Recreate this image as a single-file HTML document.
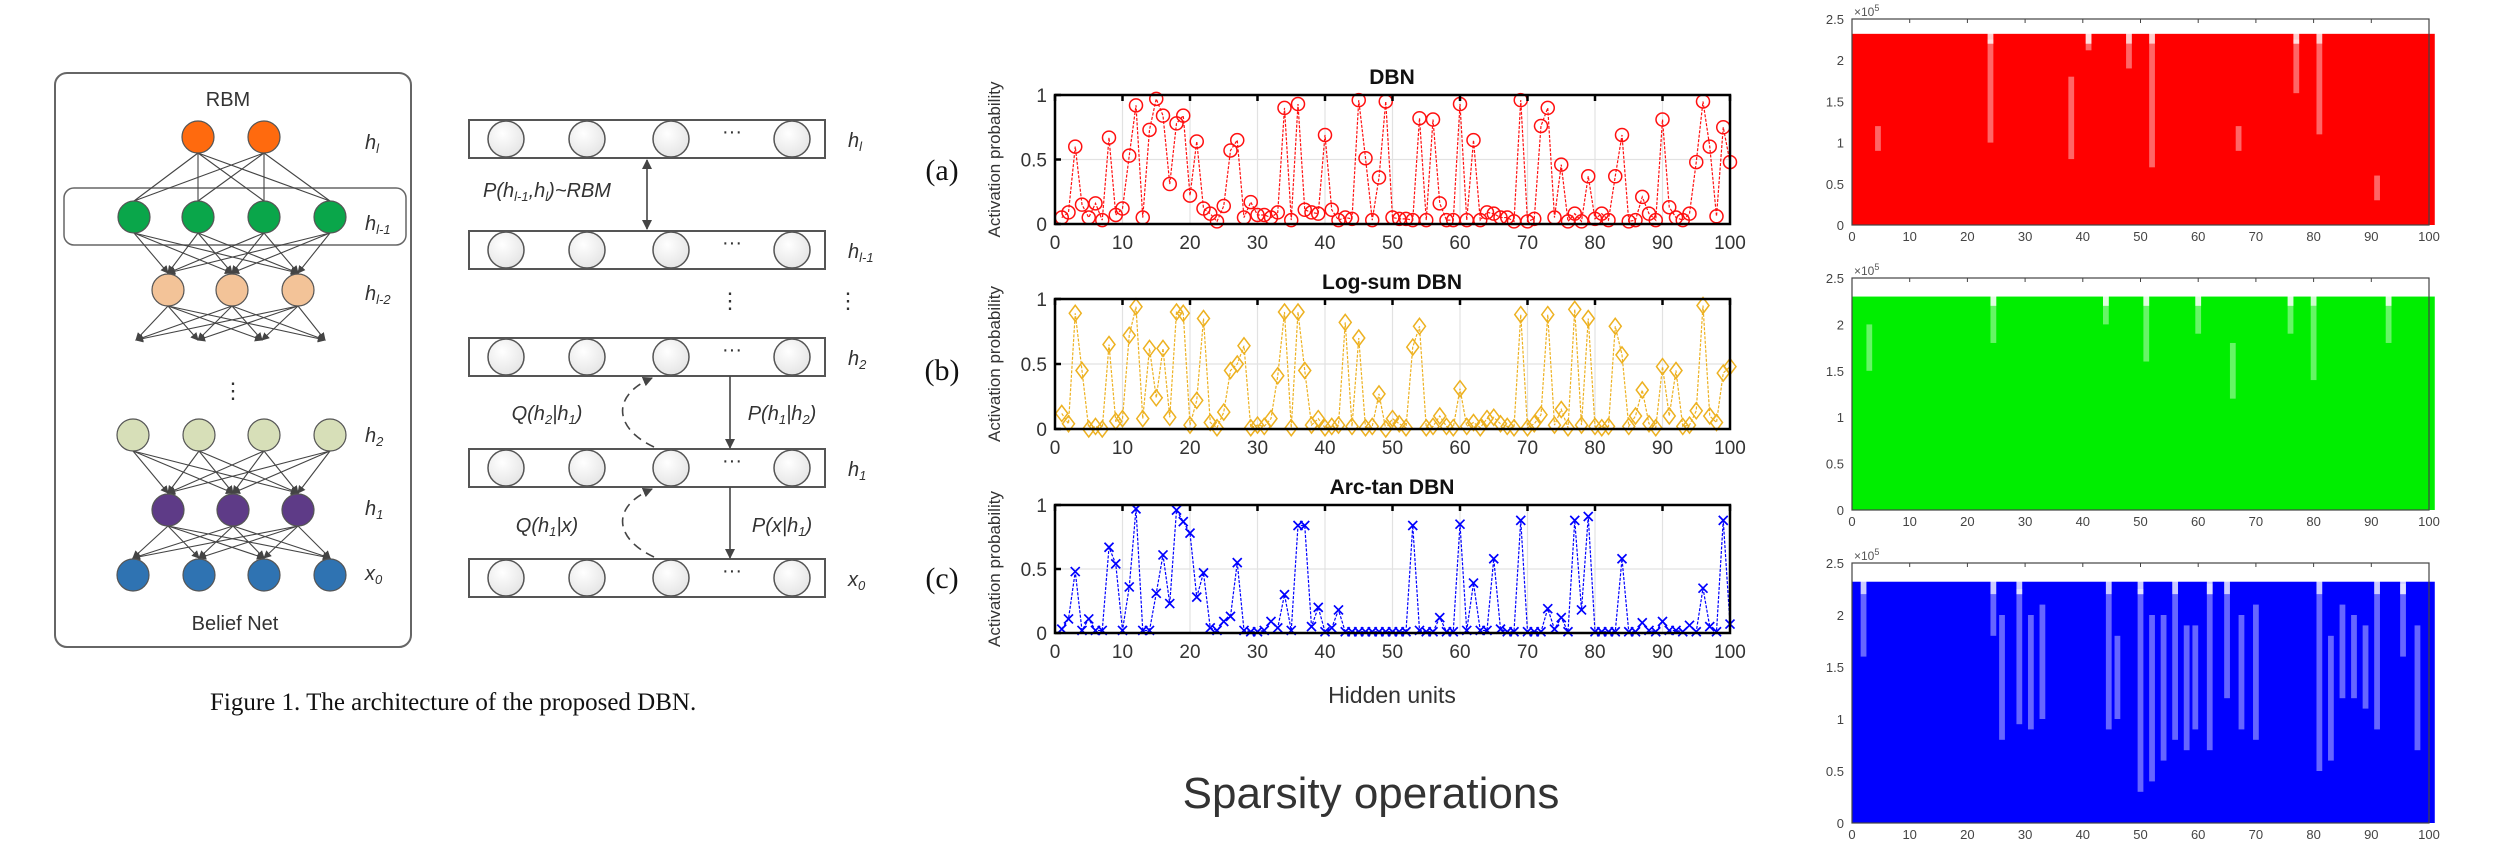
<!DOCTYPE html>
<html><head><meta charset="utf-8"><title>DBN sparsity figure</title>
<style>
html,body{margin:0;padding:0;background:#fff;}
svg{display:block;}
text{font-family:"Liberation Sans",sans-serif;}
.it{font-family:"Liberation Sans",sans-serif;font-style:italic;fill:#333;}
</style></head>
<body>
<svg id="fig" width="2500" height="857" viewBox="0 0 2500 857" xmlns="http://www.w3.org/2000/svg">
<defs>
<marker id="ah" markerWidth="8" markerHeight="8" refX="7" refY="4" orient="auto" markerUnits="userSpaceOnUse"><path d="M0,0 L8,4 L0,8 z" fill="#444"/></marker>
<marker id="ah2" markerWidth="10" markerHeight="10" refX="9" refY="5" orient="auto-start-reverse" markerUnits="userSpaceOnUse"><path d="M0,0 L10,5 L0,10 z" fill="#444"/></marker>
<radialGradient id="cg" cx="0.4" cy="0.35" r="0.7"><stop offset="0" stop-color="#ffffff"/><stop offset="1" stop-color="#e4e4e4"/></radialGradient>
</defs>

<g id="left-diagram">
 <rect x="55" y="73" width="356" height="574" rx="12" fill="none" stroke="#666" stroke-width="2"/>
 <text x="228" y="106" font-size="20" text-anchor="middle" fill="#333">RBM</text>
 <rect x="64" y="188" width="342" height="57" rx="10" fill="none" stroke="#666" stroke-width="1.5"/>
 <g id="edges" stroke="#444" stroke-width="1.1" fill="none"></g>
 <g id="nodes"></g>
 <text x="233" y="398" font-size="22" text-anchor="middle" fill="#333">⋮</text>
 <text x="235" y="630" font-size="20" text-anchor="middle" fill="#333">Belief Net</text>
 <text class="it" x="365" y="149" font-size="20">h<tspan font-size="13" dy="4">l</tspan></text>
 <text class="it" x="365" y="230" font-size="20">h<tspan font-size="13" dy="4">l-1</tspan></text>
 <text class="it" x="365" y="300" font-size="20">h<tspan font-size="13" dy="4">l-2</tspan></text>
 <text class="it" x="365" y="442" font-size="20">h<tspan font-size="13" dy="4">2</tspan></text>
 <text class="it" x="365" y="515" font-size="20">h<tspan font-size="13" dy="4">1</tspan></text>
 <text class="it" x="365" y="580" font-size="20">x<tspan font-size="13" dy="4">0</tspan></text>
</g>
<text x="210" y="710" font-size="25" style="font-family:'Liberation Serif',serif" fill="#111">Figure 1. The architecture of the proposed DBN.</text>

<g id="mid-diagram"></g>

<g id="line-charts"></g>
<text x="1392" y="703" font-size="23" text-anchor="middle" fill="#333">Hidden units</text>
<text x="1371" y="808" font-size="44" text-anchor="middle" fill="#333">Sparsity operations</text>

<g id="scatter-panels"></g>
</svg>

<script>
const hiddenUnits = Array.from({length:100},(_,i)=>i+1);
const dbnValues = [.05,.09,.6,.15,.05,.16,.03,.67,.07,.12,
 .53,.92,.05,.73,.97,.84,.31,.78,.84,.22,
 .64,.12,.08,.02,.14,.57,.65,.05,.17,.07,
 .07,.05,.09,.9,.03,.93,.11,.09,.08,.69,
 .11,.03,.05,.04,.96,.51,.03,.36,.95,.05,
 .04,.04,.03,.82,.03,.81,.16,.03,.03,.93,
 .03,.65,.03,.09,.08,.05,.05,.02,.96,.02,
 .04,.76,.9,.05,.46,.02,.08,.02,.37,.04,
 .08,.03,.37,.69,.02,.03,.21,.08,.03,.81,
 .13,.05,.03,.08,.48,.95,.6,.06,.75,.48];
const logSumValues = [.12,.04,.89,.45,0,.02,0,.65,.06,.08,
 .72,.94,.08,.62,.24,.62,.09,.9,.89,.03,
 .22,.85,.05,.01,.13,.45,.5,.64,.01,.03,
 .02,.08,.41,.9,.01,.9,.45,.03,.08,.01,
 .02,.03,.82,.02,.7,.01,.02,.27,0,.08,
 .04,.01,.63,.79,.01,.02,.1,.02,.01,.31,
 .02,.05,.01,.08,.09,.04,.02,.01,.88,.01,
 .04,.11,.88,.03,.15,.01,.92,.03,.85,.02,
 .01,.02,.79,.57,.02,.1,.3,.04,.01,.48,
 .1,.45,.02,.03,.14,.95,.1,.05,.43,.48];
const arcTanValues = [.03,.11,.48,.02,.11,.02,.02,.67,.54,.02,
 .36,.97,.02,.02,.31,.61,.23,.96,.87,.78,
 .28,.47,.04,.02,.09,.13,.55,.02,.01,.01,
 .02,.09,.04,.3,.02,.84,.84,.05,.2,.01,
 .04,.18,.01,.01,.01,.01,.01,.01,.01,.01,
 .01,.01,.84,.02,.01,.01,.12,.01,.01,.85,
 .02,.39,.02,.02,.58,.03,.01,.01,.88,.01,
 .01,.01,.19,.03,.12,.01,.88,.18,.91,.01,
 .01,.01,.01,.58,.01,.01,.08,.02,.01,.09,
 .02,.02,.01,.06,.01,.35,.05,.01,.88,.07];
const xTickLabels = ["0","10","20","30","40","50","60","70","80","90","100"];
const yTickLabels = ["0","0.5","1"];
const scatterYTicks = ["0","0.5","1","1.5","2","2.5"];
const scatterTop = [2.32, 2.3, 2.32];
const redGaps = [[4.5,0.9,1.2],[24,1.0,2.25],[41,2.12,2.33],[52,0.7,2.2],[67,0.9,1.2],[77,1.6,2.25],[81,1.1,2.2],[91,0.3,0.6],[38,0.8,1.8],[48,1.9,2.2]];
const greenGaps = [[24.5,1.8,2.33],[44,2.0,2.33],[51,1.6,2.33],[60,1.9,2.33],[76,1.9,2.33],[80,1.4,2.2],[93,1.8,2.33],[3,1.5,2.0],[66,1.2,1.8]];
const blueGaps = [[2,1.6,2.2],[24.5,1.8,2.2],[26,0.8,2.0],[29,0.95,2.25],[31,0.9,2.0],[33,1.0,2.1],[44.5,0.9,2.2],[46,1.0,1.8],[50,0.3,2.25],[52,0.4,2.0],[54,0.6,2.0],[56,0.8,2.2],[58,0.7,1.9],[59.5,0.9,1.9],[62,0.7,2.3],[65,1.2,2.2],[67.5,0.9,2.0],[70,0.8,2.1],[81,0.5,2.2],[83,0.6,1.8],[85,1.2,2.1],[87,1.2,2.0],[89,1.1,1.9],[91,0.9,2.2],[95.5,1.6,2.3],[98,0.7,1.9]];

const NS="http://www.w3.org/2000/svg";
function mk(tag, attrs, parent){const e=document.createElementNS(NS,tag);for(const k in attrs)e.setAttribute(k,attrs[k]);if(parent)parent.appendChild(e);return e;}

const nodesG=document.getElementById('nodes'), edgesG=document.getElementById('edges');
const layers=[
 {y:137,xs:[198,264],c:'#ff6a0e'},
 {y:217,xs:[134,198,264,330],c:'#0aa64a'},
 {y:290,xs:[168,232,298],c:'#f3c398'},
 {y:435,xs:[133,199,264,330],c:'#d7dfb8'},
 {y:510,xs:[168,233,298],c:'#5e3b87'},
 {y:575,xs:[133,199,264,330],c:'#2f73b2'}];
function connect(a,b,arrow){a.xs.forEach(x1=>b.xs.forEach(x2=>{
  const l=mk('line',{x1:x1,y1:a.y+16,x2:x2,y2:b.y-(arrow?17:16)},edgesG);
  if(arrow)l.setAttribute('marker-end','url(#ah)');
  
  
}));}
connect(layers[0],layers[1],false);
connect(layers[1],layers[2],true);
connect(layers[3],layers[4],true);
connect(layers[4],layers[5],true);
const tips=[136,198,262,325];
layers[2].xs.forEach(x1=>tips.forEach(x2=>{
  const l=mk('line',{x1:x1,y1:306,x2:x2,y2:340,'marker-end':'url(#ah)'},edgesG);
  
  
}));
layers.forEach(L=>L.xs.forEach(x=>{
  const c=mk('circle',{cx:x,cy:L.y,r:16,fill:L.c,stroke:'#555','stroke-width':1.2},nodesG);
  
  
}));

const mid=document.getElementById('mid-diagram');
const rows=[{t:120,lab:'l',base:'h'},{t:231,lab:'l-1',base:'h'},{t:338,lab:'2',base:'h'},{t:449,lab:'1',base:'h'},{t:559,lab:'0',base:'x'}];
rows.forEach(r=>{
  const b=mk('rect',{x:469,y:r.t,width:356,height:38,fill:'#fff',stroke:'#555','stroke-width':2},mid);
  
  
  [506,587,671,792].forEach(x=>{
    const c=mk('circle',{cx:x,cy:r.t+19,r:18,fill:'url(#cg)',stroke:'#555','stroke-width':1.5},mid);
    
    
  });
  const d=mk('text',{x:732,y:r.t+18,'font-size':20,'text-anchor':'middle',fill:'#333'},mid);d.textContent='···';
  
  
  const t=mk('text',{x:848,y:r.t+27,'font-size':20,class:'it'},mid);
  t.innerHTML=r.base+'<tspan font-size="13" dy="4">'+r.lab+'</tspan>';
  
  
});
[[730,300],[848,300]].forEach(p=>{const v=mk('text',{x:p[0],y:p[1]+8,'font-size':22,'text-anchor':'middle',fill:'#333'},mid);v.textContent='⋮';
  
  });
let a=mk('line',{x1:647,y1:160,x2:647,y2:229,stroke:'#444','stroke-width':1.6,'marker-start':'url(#ah2)','marker-end':'url(#ah2)'},mid);


[[376,449],[487,559]].forEach(p=>{const l=mk('line',{x1:730,y1:p[0],x2:730,y2:p[1]-1,stroke:'#444','stroke-width':1.6,'marker-end':'url(#ah2)'},mid);
  
  });
[[449,376],[559,487]].forEach(p=>{const l=mk('path',{d:`M654,${p[0]-2} C615,${p[0]-20} 610,${p[1]+20} 652,${p[1]+2}`,fill:'none',stroke:'#444','stroke-width':1.6,'stroke-dasharray':'9,6','marker-end':'url(#ah2)'},mid);
  
  });
const midTexts=[[547,197,'P(h<tspan font-size="13" dy="4">l-1</tspan><tspan dy="-4">,h</tspan><tspan font-size="13" dy="4">l</tspan><tspan dy="-4">)~RBM</tspan>','rbm-formula'],
 [547,420,'Q(h<tspan font-size="13" dy="4">2</tspan><tspan dy="-4">|h</tspan><tspan font-size="13" dy="4">1</tspan><tspan dy="-4">)</tspan>','q-h2-h1'],
 [782,420,'P(h<tspan font-size="13" dy="4">1</tspan><tspan dy="-4">|h</tspan><tspan font-size="13" dy="4">2</tspan><tspan dy="-4">)</tspan>','p-h1-h2'],
 [547,532,'Q(h<tspan font-size="13" dy="4">1</tspan><tspan dy="-4">|x)</tspan>','q-h1-x'],
 [782,532,'P(x|h<tspan font-size="13" dy="4">1</tspan><tspan dy="-4">)</tspan>','p-x-h1']];
midTexts.forEach(m=>{const t=mk('text',{x:m[0],y:m[1],'font-size':20,'text-anchor':'middle',class:'it'},mid);t.innerHTML=m[2];
  
  });

const lc=document.getElementById('line-charts');
const X0=1055,X1=1730;
const xs=u=>X0+(X1-X0)*u/100;
const charts=[
 {vals:dbnValues,top:95,bot:224,col:'#ff1010',mk:'circle',title:'DBN',ty:84,tag:'(a)',tagY:180,name:'dbn'},
 {vals:logSumValues,top:299,bot:429,col:'#edb120',mk:'diamond',title:'Log-sum DBN',ty:289,tag:'(b)',tagY:380,name:'log-sum-dbn'},
 {vals:arcTanValues,top:505,bot:633,col:'#0000ff',mk:'x',title:'Arc-tan DBN',ty:494,tag:'(c)',tagY:588,name:'arc-tan-dbn'}];
charts.forEach(ch=>{
  const g=mk('g',{},lc);
  
  
  const ys=v=>ch.bot-(ch.bot-ch.top)*v;
  for(let i=1;i<10;i++){const gl=mk('line',{x1:xs(i*10),x2:xs(i*10),y1:ch.top,y2:ch.bot,stroke:'#e2e2e2','stroke-width':1.2},g);
    
    }
  const gh=mk('line',{x1:X0,x2:X1,y1:ys(0.5),y2:ys(0.5),stroke:'#e2e2e2','stroke-width':1.2},g);
  
  
  const pts=ch.vals.map((v,i)=>xs(hiddenUnits[i])+','+ys(v)).join(' ');
  const pl=mk('polyline',{points:pts,fill:'none',stroke:ch.col,'stroke-width':1.2,'stroke-dasharray':'3,1.5'},g);
  
  
  ch.vals.forEach((v,i)=>{const x=xs(hiddenUnits[i]),y=ys(v);let m;
    if(ch.mk==='circle')m=mk('circle',{cx:x,cy:y,r:6.5,fill:'none',stroke:ch.col,'stroke-width':1.5},g);
    else if(ch.mk==='diamond')m=mk('path',{d:`M${x},${y-8}L${x+6},${y}L${x},${y+8}L${x-6},${y}Z`,fill:'none',stroke:ch.col,'stroke-width':1.5},g);
    else m=mk('path',{d:`M${x-4.5},${y-4.5}L${x+4.5},${y+4.5}M${x-4.5},${y+4.5}L${x+4.5},${y-4.5}`,fill:'none',stroke:ch.col,'stroke-width':1.7},g);
    
    
  });
  const box=mk('rect',{x:X0,y:ch.top,width:X1-X0,height:ch.bot-ch.top,fill:'none',stroke:'#000','stroke-width':2.5},g);
  
  
  xTickLabels.forEach(t=>{const x=xs(+t);
    const tk=mk('line',{x1:x,x2:x,y1:ch.top,y2:ch.top+6,stroke:'#000','stroke-width':2.5},g);
    
    
    const tx=mk('text',{x:x,y:ch.bot+25,'font-size':19,'text-anchor':'middle',fill:'#333'},g);tx.textContent=t;
    
    });
  yTickLabels.forEach(t=>{const y=ys(+t);
    const tk=mk('line',{x1:X0,x2:X0+6,y1:y,y2:y,stroke:'#000','stroke-width':2.5},g);
    
    
    const tx=mk('text',{x:X0-8,y:y+7,'font-size':19,'text-anchor':'end',fill:'#333'},g);tx.textContent=t;
    
    });
  const midY=(ch.top+ch.bot)/2;
  const yl=mk('text',{x:1000,y:midY,'font-size':17,'text-anchor':'middle',fill:'#333',transform:`rotate(-90 1000 ${midY})`},g);yl.textContent='Activation probability';
  
  
  const tt=mk('text',{x:1392,y:ch.ty,'font-size':21,'font-weight':'bold','text-anchor':'middle',fill:'#111'},g);tt.textContent=ch.title;
  
  
  const tg=mk('text',{x:942,y:ch.tagY,'font-size':30,'text-anchor':'middle',fill:'#111',style:"font-family:'Liberation Serif',serif"},g);tg.textContent=ch.tag;
  
  
});

const sp=document.getElementById('scatter-panels');
const SL=1852,SR=2429;
const sx=u=>SL+(SR-SL)*u/100;
const panels=[{top:19,bot:225,col:'#ff0000',gaps:redGaps,name:'red'},{top:278,bot:510,col:'#00ee00',gaps:greenGaps,name:'green'},{top:563,bot:823,col:'#0000ff',gaps:blueGaps,name:'blue'}];
panels.forEach((p,pi)=>{
  const g=mk('g',{},sp);
  
  
  const sy=v=>p.bot-(p.bot-p.top)*v/2.5;
  const f=mk('rect',{x:sx(0),y:sy(scatterTop[pi]),width:sx(101)-sx(0),height:sy(0)-sy(scatterTop[pi]),fill:p.col},g);
  
  
  p.gaps.forEach(gp=>{const r=mk('rect',{x:sx(gp[0]-0.5),y:sy(gp[2]),width:sx(1.0)-sx(0),height:sy(gp[1])-sy(gp[2]),fill:'#fff',opacity:0.4},g);
    
    
    if(gp[2]>=2.2){const n=mk('rect',{x:sx(gp[0]-0.5),y:sy(scatterTop[pi])-1,width:sx(1.0)-sx(0),height:(sy(2.2)-sy(scatterTop[pi]))+1,fill:'#fff',opacity:0.8},g);
      
      }
  });
  const b=mk('rect',{x:SL,y:p.top,width:SR-SL,height:p.bot-p.top,fill:'none',stroke:'#444','stroke-width':1.2},g);
  
  
  xTickLabels.forEach(t=>{const x=sx(+t);
    const tk=mk('line',{x1:x,x2:x,y1:p.top,y2:p.top+4,stroke:'#444'},g);
    
    
    const tx=mk('text',{x:x,y:p.bot+16,'font-size':13,'text-anchor':'middle',fill:'#444'},g);tx.textContent=t;
    
    });
  scatterYTicks.forEach(t=>{const y=sy(+t);
    const tx=mk('text',{x:SL-8,y:y+5,'font-size':13,'text-anchor':'end',fill:'#444'},g);tx.textContent=t;
    
    });
  const ex=mk('text',{x:SL+2,y:p.top-3,'font-size':12,fill:'#555'},g);ex.innerHTML='×10<tspan font-size="9" dy="-5">5</tspan>';
  
  
});
</script>
</body></html>
